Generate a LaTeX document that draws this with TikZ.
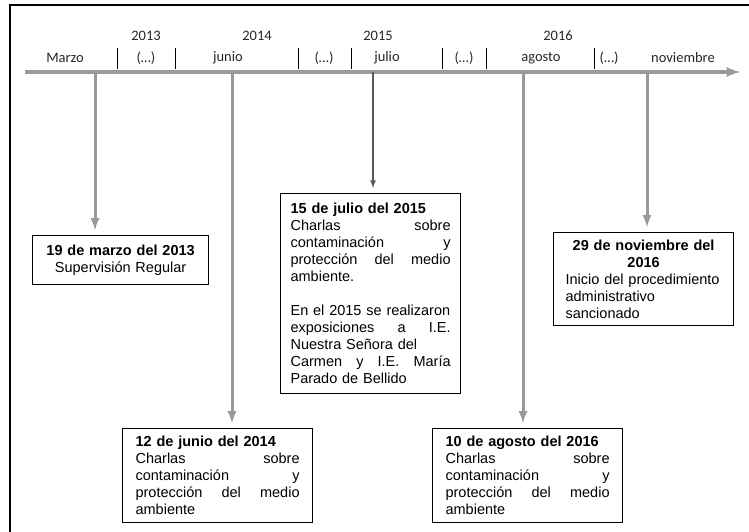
\documentclass[tikz,border=0pt]{standalone}
\usepackage{fontspec}
\setmainfont{Liberation Sans}
\newfontfamily\tlfont{Carlito}

\begin{document}
\begin{tikzpicture}[x=1pt,y=-1pt,
  every node/.style={font=\fontsize{14.5}{17}\selectfont},
  tl/.style={font=\tlfont\fontsize{14.5}{16}\selectfont,inner sep=1pt,text=black!85},
  caja/.style={draw,line width=1.2pt,anchor=north west,align=left,inner ysep=4pt},
  flecha/.style={-latex,draw=black!40,line width=3pt,shorten >=5pt}]
\useasboundingbox (0,0) rectangle (749,532);
\draw[line width=2pt] (10,532) -- (10,5) -- (749,5);
% eje
\coordinate (ini) at (25,72);
\coordinate (fin) at (740,72);
\draw[-latex,draw=black!40,line width=3.5pt] (ini) -- (fin);
\foreach \x/\a in {146/2013,257/2014,378/2015,558/2016}
  \node[tl] (y\a) at (\x,36) {\a};
\foreach \x/\m/\n in {65/Marzo/mar,146/{(…)}/p1,228/junio/jun,324/{(…)}/p2,387/julio/jul,464/{(…)}/p3,541/agosto/ago,609/{(…)}/p4,683/noviembre/nov}
  \node[tl] (\n) at (\x,58) {\m};
\foreach \x in {117,175,298,351,442,486,594}
  \draw[line width=0.8pt] (\x,48) -- (\x,69);
\foreach \x/\n in {95/a1,232/a2,373/a3,523/a4,647/a5}
  \coordinate (\n) at (\x,72);
% cajas
\node[caja,align=center,text width=150pt,minimum height=49pt,inner xsep=13pt] (b13) at (32,235)
  {\textbf{19 de marzo del 2013}\\Supervisión Regular};
\node[caja,text width=164pt,minimum height=94pt,inner xsep=13pt] (b14) at (122,428)
  {\textbf{12 de junio del 2014}\\Charlas \hfill sobre\\contaminación \hfill y\\protección \hfill del \hfill medio\\ambiente};
\node[caja,text width=160pt,minimum height=200pt,inner xsep=10pt] (b15) at (280,193)
  {\textbf{15 de julio del 2015}\\Charlas \hfill sobre\\contaminación \hfill y\\protección \hfill del \hfill medio\\ambiente.\\[17pt]
   En el 2015 se realizaron\\exposiciones \hfill a \hfill I.E.\\Nuestra Señora del\\Carmen \hfill y \hfill I.E. \hfill María\\Parado de Bellido};
\node[caja,text width=164pt,minimum height=94pt,inner xsep=13pt] (b16a) at (432,428)
  {\textbf{10 de agosto del 2016}\\Charlas \hfill sobre\\contaminación \hfill y\\protección \hfill del \hfill medio\\ambiente};
\node[caja,text width=156pt,minimum height=93pt,inner xsep=12pt] (b16n) at (553,232)
  {\centering\textbf{29 de noviembre del\\2016}\par\raggedright Inicio del procedimiento\\administrativo\\sancionado};
% flechas
\draw[flecha] (a1) -- (a1 |- b13.north);
\draw[flecha] (a2) -- (a2 |- b14.north);
\draw[flecha,draw=black!65,line width=1.6pt] (a3) -- (a3 |- b15.north);
\draw[flecha] (a4) -- (a4 |- b16a.north);
\draw[flecha] (a5) -- (a5 |- b16n.north);
\end{tikzpicture}
\end{document}
